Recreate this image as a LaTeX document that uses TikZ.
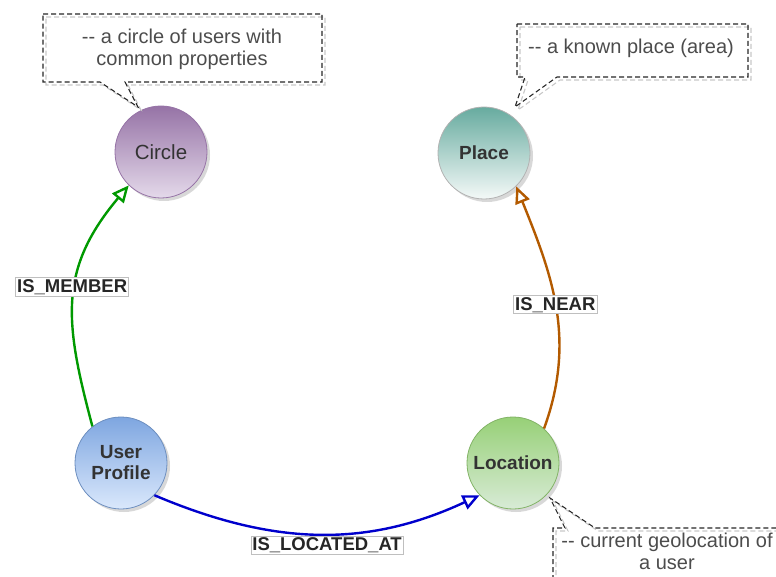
\documentclass[tikz,border=0pt]{standalone}
\usepackage{fontspec}
\setmainfont{Liberation Sans}
\usetikzlibrary{arrows.meta, shadows}

% fills and strokes of the four entities
\definecolor{circTop}{HTML}{9673A6}
\definecolor{circBot}{HTML}{E4D9EA}
\definecolor{placeTop}{HTML}{67AB9F}
\definecolor{placeBot}{HTML}{F4F9F8}
\definecolor{userTop}{HTML}{7EA6E0}
\definecolor{userBot}{HTML}{DAE8FC}
\definecolor{userLine}{HTML}{6C8EBF}
\definecolor{locTop}{HTML}{97D077}
\definecolor{locBot}{HTML}{D8EBD6}
\definecolor{locLine}{HTML}{82B366}
% relation colours
\definecolor{memberGreen}{HTML}{009900}
\definecolor{nearBrown}{HTML}{B35A00}
\definecolor{locatedBlue}{HTML}{0000CC}

\begin{document}
\begin{tikzpicture}[x=1pt, y=1pt,
  entity/.style={circle, minimum size=92pt, inner sep=0pt, align=center,
    line width=0.8pt, font=\fontsize{19}{21}\selectfont\bfseries, text=black!80,
    drop shadow={shadow xshift=3pt, shadow yshift=-3pt, fill=black!30}},
  rel/.style={line width=2.4pt, -{Triangle[open, length=17pt, width=15pt]}},
  lbl/.style={fill=white, draw=black!25, line width=0.6pt, inner xsep=1.5pt,
    inner ysep=1.5pt, font=\fontsize{18.5}{20}\selectfont\bfseries, text=black!85},
  note/.style={draw=black!85, line width=1.1pt, dash pattern=on 5pt off 3pt},
  noteshade/.style={draw=black!22, line width=1.1pt, dash pattern=on 5pt off 3pt},
  notetext/.style={align=center, font=\fontsize{20}{22}\selectfont, text=black!70}
]
  \useasboundingbox (0,0) rectangle (776,576);
  \clip (0,0) rectangle (776,576);

  %--- entities ---
  \node[entity, draw=circTop, top color=circTop, bottom color=circBot,
    font=\fontsize{20.5}{22}\selectfont] (circ) at (161,424) {Circle};
  \node[entity, draw=black!30, top color=placeTop, bottom color=placeBot] (place) at (484,423) {Place};
  \node[entity, draw=userLine, top color=userTop, bottom color=userBot] (user) at (121,113) {User\\Profile};
  \node[entity, draw=locLine, top color=locTop, bottom color=locBot] (loc) at (513,113) {Location};

  %--- relations ---
  \draw[rel, memberGreen] (user.128) to[out=105, in=230, looseness=1.15]
    node[lbl, pos=0.55, xshift=-3pt] {IS\_MEMBER} (circ.226);
  \draw[rel, nearBrown] (loc.48) to[out=70, in=292]
    node[lbl, pos=0.51] {IS\_NEAR} (place.-46);
  \draw[rel, locatedBlue] (user.-44) to[out=-23, in=205]
    node[lbl, pos=0.53, below=2pt] {IS\_LOCATED\_AT} (loc.224);

  %--- callout: circle ---
  \draw[noteshade, shift={(3,-3)}] (43,562) -- (322,562) -- (322,494) -- (125,494)
    -- (138,469) -- (100,494) -- (43,494) -- cycle;
  \draw[note] (43,562) -- (322,562) -- (322,494) -- (125,494)
    -- (138,469) -- (100,494) -- (43,494) -- cycle;
  \node[notetext] (circnote) at (182,527) {-{}- a circle of users with\\common properties};

  %--- callout: place ---
  \draw[noteshade, shift={(3,-3)}] (517,552) -- (748,552) -- (748,499) -- (557,499)
    -- (515,469) -- (525,499) -- (517,499) -- cycle;
  \draw[note] (517,552) -- (748,552) -- (748,499) -- (557,499)
    -- (515,469) -- (525,499) -- (517,499) -- cycle;
  \node[notetext] (placenote) at (631,528) {-{}- a known place (area)};

  %--- callout: location (runs off the page) ---
  \draw[noteshade, shift={(3,-3)}] (553,-20) -- (553,48) -- (565,48) -- (550,78)
    -- (595,48) -- (790,48) -- (790,-20) -- cycle;
  \draw[note] (553,-20) -- (553,48) -- (565,48) -- (550,78)
    -- (595,48) -- (790,48) -- (790,-20) -- cycle;
  \node[notetext] (locnote) at (667,25) {-{}- current geolocation of\\a user};
\end{tikzpicture}
\end{document}
